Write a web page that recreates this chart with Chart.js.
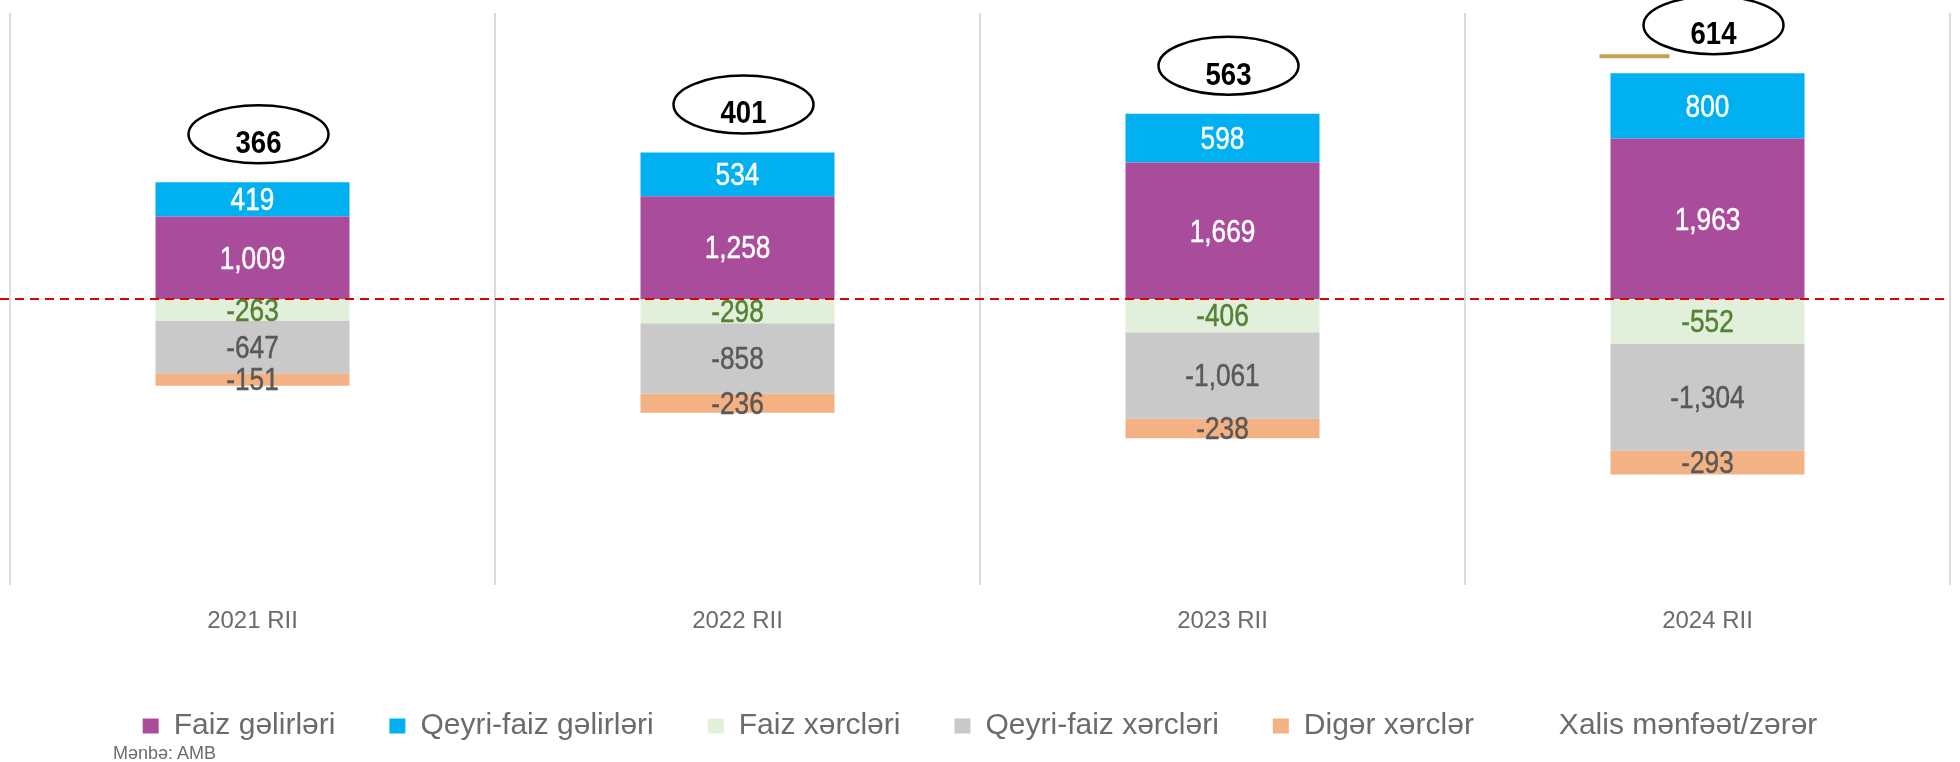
<!DOCTYPE html>
<html>
<head>
<meta charset="utf-8">
<script src="https://cdn.jsdelivr.net/npm/chart.js@4.4.1/dist/chart.umd.min.js"></script>
<style>
  html, body { margin: 0; padding: 0; background: #fff; }
  #wrap { position: relative; width: 1960px; height: 762px; }
  #source { position: absolute; left: 113px; top: 743px; font: 18px "Liberation Sans", Arial, sans-serif; color: #6d6d6d; }
</style>
</head>
<body>
<div id="wrap">
  <canvas id="chart" width="1960" height="762"></canvas>
  <div id="source">Mənbə: AMB</div>
</div>
<script>
// values (mln. manat)
var categories = ['2021 RII', '2022 RII', '2023 RII', '2024 RII'];
var interestIncome = [1009, 1258, 1669, 1963];
var nonInterestIncome = [419, 534, 598, 800];
var interestExpense = [-263, -298, -406, -552];
var nonInterestExpense = [-647, -858, -1061, -1304];
var otherExpense = [-151, -236, -238, -293];
var netProfit = [366, 401, 563, 614];

var textFont = '"Liberation Sans", Arial, sans-serif';

// narrow look of the original font: squeeze the text horizontally,
// a thin outline in the same colour gives it a medium weight
function narrowText(ctx, text, x, y, squeeze, weight) {
    ctx.save();
    ctx.translate(x, y);
    ctx.scale(squeeze, 1);
    ctx.fillText(text, 0, 0);
    if (weight) {
        ctx.strokeStyle = ctx.fillStyle;
        ctx.lineWidth = weight;
        ctx.strokeText(text, 0, 0);
    }
    ctx.restore();
}

// red dashed zero line across the whole width
var zeroLine = {
    id: 'zeroLine',
    afterDatasetsDraw: function (chart) {
        var ctx = chart.ctx;
        var y = chart.scales.y.getPixelForValue(0);
        ctx.save();
        ctx.strokeStyle = '#e00000';
        ctx.lineWidth = 2;
        ctx.setLineDash([9, 6]);
        ctx.beginPath();
        ctx.moveTo(0, y);
        ctx.lineTo(chart.chartArea.right, y);
        ctx.stroke();
        ctx.restore();
    }
};

// value inside every bar segment
var segmentLabels = {
    id: 'segmentLabels',
    afterDatasetsDraw: function (chart) {
        var ctx = chart.ctx;
        ctx.save();
        ctx.font = '32px ' + textFont;
        ctx.textAlign = 'center';
        ctx.textBaseline = 'middle';
        chart.data.datasets.forEach(function (ds, i) {
            if (ds.type === 'line') return;
            var meta = chart.getDatasetMeta(i);
            meta.data.forEach(function (bar, j) {
                ctx.fillStyle = ds.labelColor;
                narrowText(ctx, ds.data[j].toLocaleString('en-US'), bar.x, (bar.y + bar.base) / 2 + 2, 0.82, 0.5);
            });
        });
        ctx.restore();
    }
};

// net profit in an ellipse above each stack
var netCallouts = {
    id: 'netCallouts',
    afterDatasetsDraw: function (chart) {
        var ctx = chart.ctx;
        var yScale = chart.scales.y;
        var bars = chart.getDatasetMeta(0).data;
        var last = bars.length - 1;
        ctx.save();
        bars.forEach(function (bar, j) {
            var top = yScale.getPixelForValue(interestIncome[j] + nonInterestIncome[j]);
            var cx = bar.x + 6;
            var cy = top - 48;
            if (j === last) {
                ctx.strokeStyle = '#c4a052';
                ctx.lineWidth = 4;
                ctx.beginPath();
                ctx.moveTo(bar.x - bar.width / 2 - 11, top - 17);
                ctx.lineTo(bar.x - bar.width / 2 + 59, top - 17);
                ctx.stroke();
            }
            ctx.strokeStyle = '#000';
            ctx.lineWidth = 2.5;
            ctx.beginPath();
            ctx.ellipse(cx, cy, 70, 29, 0, 0, Math.PI * 2);
            ctx.stroke();
            ctx.fillStyle = '#000';
            ctx.font = 'bold 32px ' + textFont;
            ctx.textAlign = 'center';
            ctx.textBaseline = 'middle';
            narrowText(ctx, String(netProfit[j]), cx, cy + 10, 0.86);
        });
        ctx.restore();
    }
};

var ctx = document.getElementById('chart').getContext('2d');
var chart = new Chart(ctx, {
    type: 'bar',
    data: {
        labels: categories,
        datasets: [
            { label: 'Faiz gəlirləri', data: interestIncome, backgroundColor: '#aa4c9c', labelColor: '#ffffff' },
            { label: 'Qeyri-faiz gəlirləri', data: nonInterestIncome, backgroundColor: '#00b0f0', labelColor: '#ffffff' },
            { label: 'Faiz xərcləri', data: interestExpense, backgroundColor: '#e2efda', labelColor: '#548235' },
            { label: 'Qeyri-faiz xərcləri', data: nonInterestExpense, backgroundColor: '#c9c9c9', labelColor: '#595959' },
            { label: 'Digər xərclər', data: otherExpense, backgroundColor: '#f4b183', labelColor: '#595959' },
            {
                type: 'line', label: 'Xalis mənfəət/zərər', data: netProfit, yAxisID: 'net',
                showLine: false, pointRadius: 0, pointHoverRadius: 0,
                backgroundColor: 'rgba(0,0,0,0)', borderColor: 'rgba(0,0,0,0)'
            }
        ]
    },
    options: {
        responsive: false,
        animation: false,
        events: [],
        layout: { padding: { top: 13, left: 10, right: 10, bottom: 11 } },
        datasets: { bar: { categoryPercentage: 1, barPercentage: 0.4, stack: 'pl' } },
        scales: {
            x: {
                stacked: true,
                border: { display: false },
                grid: { offset: true, color: '#dadada', lineWidth: 2, drawTicks: false },
                ticks: { padding: 22, color: '#6b6b6b', font: { family: textFont, size: 24 } },
                afterFit: function (scale) { scale.height = 72; }
            },
            y: { stacked: true, display: false, min: -3500, max: 3500 },
            net: { display: false, min: -3500, max: 3500 }
        },
        plugins: {
            tooltip: { enabled: false },
            legend: {
                position: 'bottom',
                padding: 0,
                labels: {
                    boxWidth: 16,
                    boxHeight: 15,
                    padding: 54,
                    color: '#6b6b6b',
                    font: { family: textFont, size: 30 }
                }
            }
        }
    },
    plugins: [zeroLine, segmentLabels, netCallouts]
});
</script>
</body>
</html>
